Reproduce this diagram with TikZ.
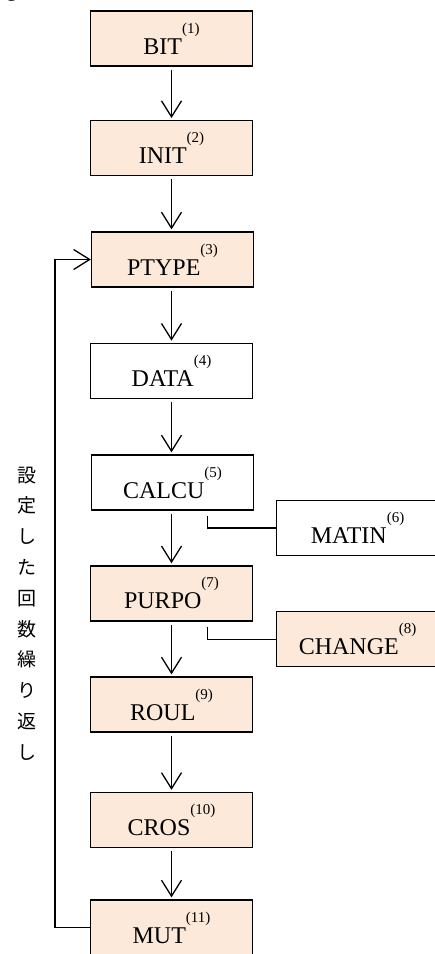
\documentclass[tikz,border=0pt]{standalone}
\usepackage{fontspec}
\setmainfont{Liberation Serif}
\newfontfamily\jpfont{Noto Sans CJK JP}
\usepackage{xcolor}
\usetikzlibrary{arrows.meta}
\definecolor{peach}{HTML}{FDE9D9}
\tikzset{
    step-box/.style = {draw=black, line width=1.3pt, rectangle, minimum width=162pt, minimum height=55pt, inner sep=0pt, font=\fontsize{24}{24}\selectfont},
    step-box-fill/.style = {step-box, fill=peach},
    flow-arrow/.style = {line width=1.3pt, -{Straight Barb[length=16pt,width=20pt,line width=1.3pt]}, shorten <=3pt, shorten >=2pt},
    side-line/.style = {line width=1.3pt},
}
\newcommand{\steplabel}[2]{#1\raisebox{21pt}{\fontsize{15}{15}\selectfont(#2)}}

\begin{document}
\begin{tikzpicture}[x=1pt, y=-1pt]
\clip (0,0) rectangle (435,954);
\node[font=\jpfont\fontsize{20}{20}\selectfont, anchor=base west, inner sep=0pt] (prev-text) at (1,0.5) {る\hspace{44pt}．};

\node[step-box-fill] (bit) at (171.5,38.5) {\steplabel{BIT}{1}};
\node[step-box-fill] (init) at (171.5,148.2) {\steplabel{INIT}{2}};
\node[step-box-fill] (ptype) at (172.5,259.5) {\steplabel{PTYPE}{3}};
\node[step-box] (data) at (171.5,370.8) {\steplabel{DATA}{4}};
\node[step-box] (calcu) at (172.5,482.5) {\steplabel{CALCU}{5}};
\node[step-box] (matin) at (357.5,528) {\steplabel{MATIN}{6}};
\node[step-box-fill] (purpo) at (171.5,593.4) {\steplabel{PURPO}{7}};
\node[step-box-fill] (change) at (357.5,639.2) {\steplabel{CHANGE}{8}};
\node[step-box-fill] (roul) at (171.5,704.5) {\steplabel{ROUL}{9}};
\node[step-box-fill] (cros) at (171.5,820) {\steplabel{CROS}{10}};
\node[step-box-fill] (mut) at (171.5,927.5) {\steplabel{MUT}{11}};

\node[font=\jpfont\fontsize{19}{30.8}\selectfont, align=center, inner sep=0pt] (repeat-label) at (27,613.5) {設\\定\\し\\た\\回\\数\\繰\\り\\返\\し};

% main flow
\draw[flow-arrow] (bit) -- (init);
\draw[flow-arrow] (init) -- (ptype.north -| init);
\draw[flow-arrow] (ptype.south -| init) -- (data);
\draw[flow-arrow] (data) -- (calcu.north -| data);
\draw[flow-arrow] (calcu.south -| data) -- (purpo);
\draw[flow-arrow] (purpo) -- (roul);
\draw[flow-arrow] (roul) -- (cros);
\draw[flow-arrow] (cros) -- (mut);

% side calls
\draw[side-line] ([xshift=35pt,yshift=-5pt]calcu.south) |- (matin.west);
\draw[side-line] ([xshift=36pt,yshift=-5pt]purpo.south) |- (change.west);

% loop back
\draw[flow-arrow, shorten <=0pt, shorten >=0pt] (mut.west) -- ++(-35pt,0) |- (ptype.west);
\end{tikzpicture}
\end{document}
